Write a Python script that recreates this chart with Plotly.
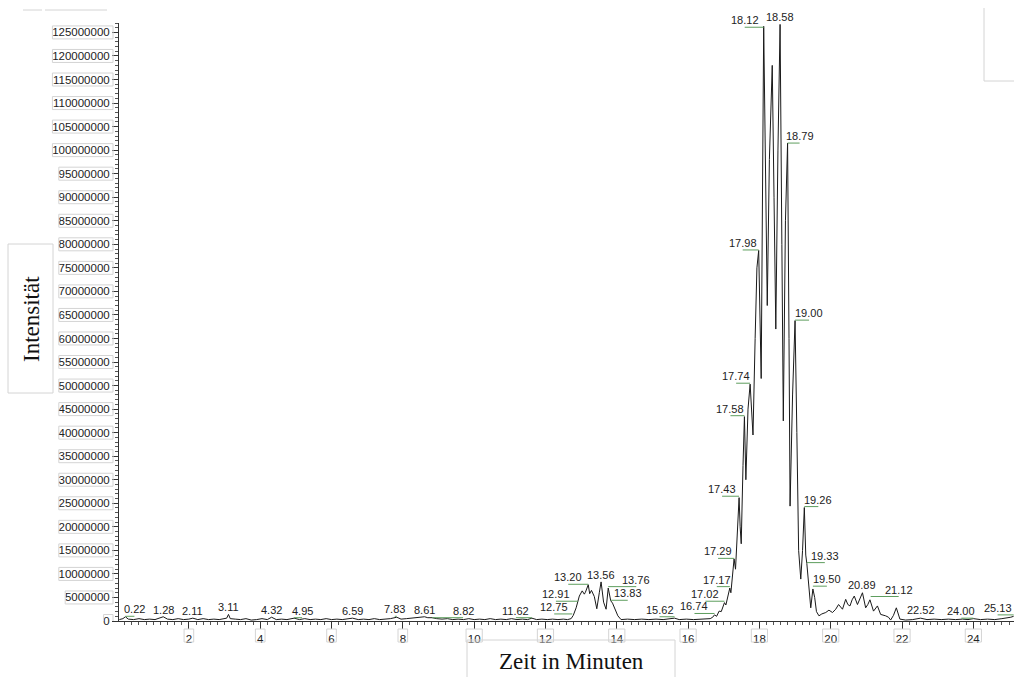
import plotly.graph_objects as go

# chromatogram trace, time in minutes, intensity in millions
TIME_MIN = [
    0.05, 0.15, 0.22, 0.30, 0.45, 0.60, 0.75, 0.90, 1.05, 1.15, 1.28, 1.40, 1.55, 1.70, 1.85,
    2.00, 2.11, 2.25, 2.40, 2.55, 2.70, 2.85, 3.00, 3.06, 3.11, 3.16, 3.30, 3.45, 3.60, 3.75,
    3.90, 4.05, 4.20, 4.32, 4.45, 4.60, 4.75, 4.95, 5.10, 5.25, 5.40, 5.55, 5.70, 5.85, 6.00,
    6.15, 6.30, 6.45, 6.59, 6.75, 6.90, 7.05, 7.20, 7.35, 7.50, 7.65, 7.83, 7.95, 8.10, 8.25,
    8.40, 8.55, 8.61, 8.70, 8.82, 8.95, 9.10, 9.25, 9.40, 9.55, 9.70, 9.85, 10.00, 10.15, 10.30,
    10.45, 10.60, 10.75, 10.90, 11.05, 11.20, 11.35, 11.50, 11.62, 11.75, 11.90, 12.05, 12.20,
    12.35, 12.50, 12.62, 12.72, 12.78, 12.86, 12.91, 12.95, 13.03, 13.09, 13.12, 13.20, 13.24,
    13.29, 13.37, 13.44, 13.51, 13.56, 13.63, 13.70, 13.76, 13.81, 13.83, 13.88, 13.93, 14.03,
    14.12, 14.30, 14.50, 14.70, 14.90, 15.10, 15.30, 15.50, 15.62, 15.75, 15.95, 16.15, 16.35,
    16.50, 16.62, 16.69, 16.74, 16.80, 16.87, 16.93, 16.97, 17.02, 17.06, 17.11, 17.17, 17.20,
    17.24, 17.29, 17.33, 17.38, 17.43, 17.46, 17.49, 17.54, 17.58, 17.62, 17.68, 17.74, 17.77,
    17.82, 17.88, 17.93, 17.98, 18.02, 18.05, 18.12, 18.17, 18.22, 18.28, 18.30, 18.36, 18.41,
    18.46, 18.52, 18.55, 18.58, 18.63, 18.67, 18.73, 18.76, 18.79, 18.83, 18.86, 18.93, 19.00,
    19.05, 19.10, 19.16, 19.21, 19.26, 19.30, 19.33, 19.38, 19.44, 19.50, 19.55, 19.60, 19.67,
    19.75, 19.86, 19.95, 20.05, 20.14, 20.22, 20.33, 20.42, 20.48, 20.54, 20.60, 20.66, 20.75,
    20.82, 20.89, 20.98, 21.04, 21.10, 21.20, 21.31, 21.40, 21.54, 21.62, 21.68, 21.76, 21.84,
    21.90, 21.94, 22.10, 22.30, 22.52, 22.70, 22.90, 23.10, 23.30, 23.50, 23.70, 23.85, 24.00,
    24.20, 24.40, 24.60, 24.80, 24.95, 25.05, 25.13,
]
INTENSITY_M = [
    0.3, 0.5, 0.9, 0.4, 0.3, 0.5, 0.3, 0.4, 0.3, 0.5, 0.9, 0.4, 0.3, 0.5, 0.3,
    0.4, 0.6, 0.3, 0.5, 0.3, 0.4, 0.3, 0.5, 0.6, 1.4, 0.5, 0.4, 0.3, 0.5, 0.2,
    0.3, 0.5, 0.3, 0.8, 0.3, 0.4, 0.3, 0.6, 0.3, 0.5, 0.3, 0.4, 0.3, 0.5, 0.3,
    0.4, 0.3, 0.5, 0.6, 0.3, 0.4, 0.3, 0.5, 0.3, 0.4, 0.5, 0.8, 0.4, 0.5, 0.6,
    0.7, 0.8, 0.9, 0.7, 0.7, 0.5, 0.4, 0.5, 0.3, 0.4, 0.3, 0.5, 0.3, 0.4, 0.3,
    0.5, 0.3, 0.4, 0.3, 0.5, 0.3, 0.4, 0.3, 0.6, 0.3, 0.4, 0.3, 0.4,
    0.3, 0.4, 0.3, 0.5, 1.2, 2.8, 4.1, 5.3, 6.4, 5.7, 6.1, 7.7, 5.8,
    6.5, 5.2, 2.6, 6.0, 8.3, 4.0, 2.5, 7.0, 5.0, 4.3, 3.8, 2.8, 1.1,
    0.3, 0.4, 0.3, 0.4, 0.3, 0.4, 0.3, 0.4, 0.6, 0.3, 0.4, 0.3, 0.4,
    0.5, 0.5, 0.8, 1.3, 1.0, 2.1, 2.0, 2.8, 3.9, 3.4, 5.0, 7.0, 6.0,
    9.5, 13.2, 11.0, 19.0, 26.2, 20.0, 16.4, 33.0, 43.4, 30.0, 45.0, 50.3, 47.0,
    39.5, 60.0, 75.0, 78.7, 62.0, 51.5, 126.3, 95.0, 67.0, 98.0, 104.0, 118.0, 90.0,
    62.0, 100.0, 120.0, 126.7, 80.0, 42.5, 85.0, 96.0, 101.5, 60.0, 24.4, 48.0, 63.8,
    40.0, 15.0, 8.9, 15.0, 24.1, 14.0, 12.2, 7.0, 2.8, 6.8, 5.0, 2.0, 1.1,
    1.5, 1.8, 2.3, 1.8, 2.5, 3.5, 2.5, 4.6, 3.5, 3.2, 4.5, 5.3, 3.5,
    4.8, 6.0, 2.8, 3.5, 4.5, 2.1, 3.2, 1.4, 1.1, 0.8, 0.2, 1.2, 2.8,
    1.5, 0.4, 0.2, 0.3, 0.6, 0.3, 0.4, 0.3, 0.4, 0.3, 0.4, 0.3, 0.5,
    0.3, 0.4, 0.3, 0.5, 0.6, 0.8, 1.0,
]

# peak labels: retention time, height of the label leader (millions), leader length in px
PEAK_LABELS = ["0.22", "1.28", "2.11", "3.11", "4.32", "4.95", "6.59", "7.83", "8.61", "8.82",
               "11.62", "12.75", "12.91", "13.20", "13.56", "13.76", "13.83", "15.62", "16.74",
               "17.02", "17.17", "17.29", "17.43", "17.58", "17.74", "17.98", "18.12", "18.58",
               "18.79", "19.00", "19.26", "19.33", "19.50", "20.89", "21.12", "22.52", "24.00",
               "25.13"]
PEAK_HEIGHTS_M = [1.0, 0.9, 0.6, 1.5, 0.9, 0.7, 0.6, 1.0, 0.9, 0.7,
                  0.7, 1.5, 4.2, 7.8, 8.3, 7.3, 4.4, 0.9, 1.6,
                  4.2, 7.3, 13.3, 26.5, 43.6, 50.5, 78.8, 126.1, 126.7,
                  101.5, 63.9, 24.3, 12.4, 7.4, 6.2, 5.2, 0.8, 0.6,
                  1.3]
PEAK_DX = [9, 0, 0, 0, 0, 8, 0, -2, 0, 31,
           -16, -18, -22, -20, 0, 28, 17, -15, -20,
           -19, -13, -16, -17, -14, -14, -16, -19, 0,
           12, 14, 14, 18, 14, 0, 28, 0, -12,
           -16]

Y_TICKS = list(range(0, 125000001, 5000000))
X_TICKS = list(range(2, 25, 2))

W, H = 1014, 677
L, R, T, B = 119, 0, 23, 56
PW, PH = W - L - R, H - T - B
BOX = "#d4d4d4"
LEADER = "#5e9e5e"


def px_x(px):
    return (px - L) / PW


def px_y(py):
    return (H - B - py) / PH


fig = go.Figure()
fig.add_scatter(
    x=TIME_MIN,
    y=[v * 1e6 for v in INTENSITY_M],
    mode="lines",
    line=dict(color="#1a1a1a", width=1),
    hoverinfo="x+y",
    showlegend=False,
)

label_font = dict(family="Liberation Sans, Arial", size=11, color="#222")
for lab, h, dx in zip(PEAK_LABELS, PEAK_HEIGHTS_M, PEAK_DX):
    t = float(lab)
    fig.add_annotation(x=t, y=h * 1e6, text=lab, showarrow=False, xshift=dx, yshift=7,
                       font=label_font)
    if dx:
        fig.add_shape(type="line", xref="x", yref="y", xsizemode="pixel", ysizemode="pixel",
                      xanchor=t, yanchor=h * 1e6, x0=0, x1=dx, y0=0, y1=0,
                      line=dict(color=LEADER, width=1))

# light boxes round the tick labels
for v in Y_TICKS:
    w = 6.4 * len(str(v)) + 3
    fig.add_shape(type="rect", xref="paper", yref="y", xsizemode="pixel", ysizemode="pixel",
                  xanchor=0, yanchor=v, x0=-6 - w, x1=-6, y0=-6.5, y1=6.5,
                  line=dict(color=BOX, width=1))
for v in X_TICKS:
    w = 6.6 * len(str(v)) + 3
    fig.add_shape(type="rect", xref="x", yref="paper", xsizemode="pixel", ysizemode="pixel",
                  xanchor=v, yanchor=0, x0=-w / 2, x1=w / 2, y0=-21, y1=-8,
                  line=dict(color=BOX, width=1))

# axis title frames and stray frame lines
fig.add_shape(type="rect", xref="paper", yref="paper", x0=px_x(8), x1=px_x(53),
              y0=px_y(393), y1=px_y(244), line=dict(color=BOX, width=1))
fig.add_shape(type="rect", xref="paper", yref="paper", x0=px_x(467), x1=px_x(675),
              y0=px_y(690), y1=px_y(640), line=dict(color=BOX, width=1))
for x0, y0, x1, y1 in [(23, 10, 42, 10), (45, 10, 107, 10), (984, 8, 984, 81), (984, 81, 1014, 81)]:
    fig.add_shape(type="line", xref="paper", yref="paper", x0=px_x(x0), x1=px_x(x1),
                  y0=px_y(y0), y1=px_y(y1), line=dict(color=BOX, width=1))

title_font = dict(family="Liberation Serif, Times New Roman", size=23, color="#111")
fig.add_annotation(xref="paper", yref="paper", x=px_x(31), y=px_y(319), text="Intensität",
                   textangle=-90, showarrow=False, font=title_font,
                   xanchor="center", yanchor="middle")
fig.add_annotation(xref="paper", yref="paper", x=px_x(571), y=px_y(661), text="Zeit in Minuten",
                   showarrow=False, font=title_font, xanchor="center", yanchor="middle")

tick_font = dict(family="Liberation Sans, Arial", size=11.5, color="#222")
fig.update_xaxes(
    range=[0.04, 25.14], tickvals=X_TICKS, ticks="outside", ticklen=7, tickcolor="#333",
    showline=True, linecolor="#333", linewidth=1, showgrid=False, zeroline=False,
    tickfont=tick_font,
    minor=dict(dtick=0.2, tick0=0, ticks="outside", ticklen=3, tickcolor="#555"),
)
fig.update_yaxes(
    range=[0, 127e6], tickvals=Y_TICKS, tickformat="d", ticks="outside", ticklen=6,
    tickcolor="#333", showline=True, linecolor="#333", linewidth=1, showgrid=False,
    zeroline=False, tickfont=tick_font,
    minor=dict(dtick=1e6, tick0=0, ticks="outside", ticklen=3, tickcolor="#555"),
)
fig.update_layout(
    width=W, height=H, autosize=False,
    margin=dict(l=L, r=R, t=T, b=B, pad=0),
    paper_bgcolor="white", plot_bgcolor="white",
    showlegend=False,
)
fig.write_html("out.html", config={"displayModeBar": False},
               post_script="document.body.style.margin='0';")
